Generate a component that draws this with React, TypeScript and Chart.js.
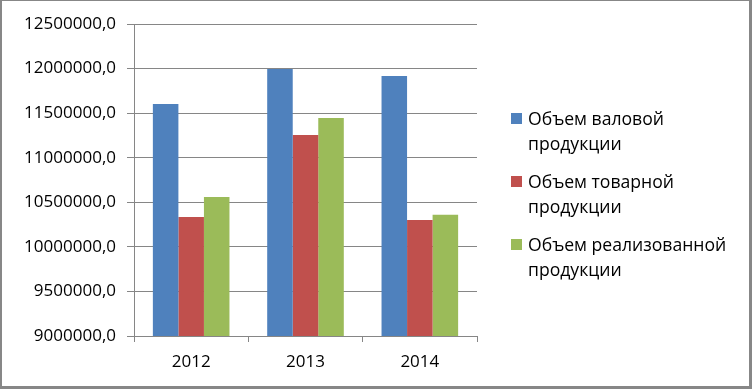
import React, { useEffect, useRef } from "react";
import { Chart, registerables } from "chart.js";

Chart.register(...registerables);

const categories = ["2012", "2013", "2014"];
const grossOutput = [11603000, 11995000, 11917000];
const commodityOutput = [10336000, 11255000, 10302000];
const soldOutput = [10560000, 11446000, 10359000];
const seriesNames = [
  ["Объем валовой", "продукции"],
  ["Объем товарной", "продукции"],
  ["Объем реализованной", "продукции"],
];
const seriesColors = ["#4F81BD", "#C0504D", "#9BBB59"];
const yMin = 9000000;
const yMax = 12500000;
const yStep = 500000;

const FONT = "'Open Sans', 'Noto Sans', sans-serif";

export default function App() {
  const ref = useRef<HTMLCanvasElement | null>(null);

  useEffect(() => {
    if (!ref.current) return;
    const values = [grossOutput, commodityOutput, soldOutput];
    const chart = new Chart(ref.current, {
      type: "bar",
      data: {
        labels: categories,
        datasets: values.map((v, i) => ({
          label: seriesNames[i].join(" "),
          data: v,
          backgroundColor: seriesColors[i],
          borderWidth: 0,
          categoryPercentage: 0.67,
          barPercentage: 1,
        })),
      },
      options: {
        responsive: false,
        animation: false,
        layout: { padding: { left: 0, right: 275, top: 24, bottom: 13 } },
        plugins: { legend: { display: false }, tooltip: { enabled: false } },
        scales: {
          x: {
            grid: {
              offset: true,
              drawOnChartArea: false,
              color: "#868686",
              tickLength: 6,
            },
            border: { color: "#868686", width: 1 },
            ticks: { color: "#000", font: { family: FONT, size: 17 }, padding: 10 },
            afterFit: (s: any) => {
              s.height = 40;
            },
          },
          y: {
            min: yMin,
            max: yMax,
            grid: { color: "#868686", tickLength: 7 },
            border: { color: "#868686", width: 1 },
            ticks: {
              stepSize: yStep,
              color: "#000",
              padding: 11,
              font: { family: FONT, size: 17 },
              callback: (v: any) => Number(v).toFixed(1).replace(".", ","),
            },
            afterFit: (s: any) => {
              s.width = 134;
            },
          },
        },
      },
    });
    return () => chart.destroy();
  }, []);

  return (
    <div style={{ position: "absolute", left: 0, top: 0, width: 752, height: 389, background: "#fff" }}>
      <canvas ref={ref} width={752} height={389} style={{ position: "absolute", left: 0, top: 0 }} />
      <div
        style={{
          position: "absolute",
          left: 511,
          top: 106,
          fontFamily: FONT,
          fontSize: 17.6,
          color: "#000",
        }}
      >
        {seriesNames.map((n, i) => (
          <div key={i} style={{ display: "flex", alignItems: "flex-start", marginBottom: 13 }}>
            <div style={{ width: 11, height: 11, background: seriesColors[i], marginTop: 7, marginRight: 6, flex: "none" }} />
            <div style={{ lineHeight: "25px" }}>
              {n.map((l, j) => (
                <div key={j}>{l}</div>
              ))}
            </div>
          </div>
        ))}
      </div>
      <div
        style={{
          position: "absolute",
          left: 0,
          top: 0,
          width: 752,
          height: 389,
          boxSizing: "border-box",
          borderStyle: "solid",
          borderColor: "#878787",
          borderWidth: "1px 3px 3px 2px",
          pointerEvents: "none",
        }}
      />
    </div>
  );
}
